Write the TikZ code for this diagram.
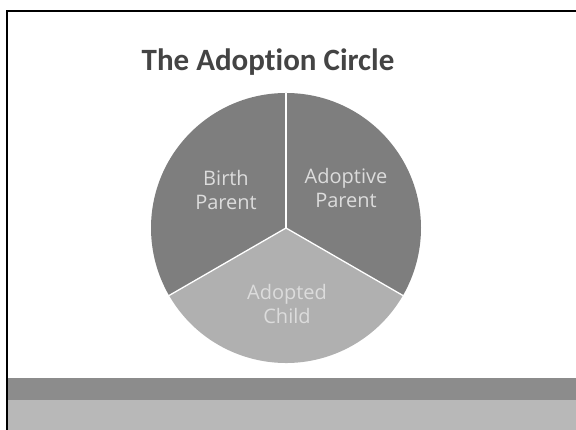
\documentclass[tikz,border=0pt]{standalone}
\usepackage{fontspec}
\setmainfont{Carlito}[Ligatures=NoCommon]
\newfontfamily\labelfont{Open Sans}
\definecolor{slicedark}{HTML}{7E7E7E}
\definecolor{slicelight}{HTML}{B0B0B0}
\definecolor{labeltext}{HTML}{DCDCDC}
\definecolor{titletext}{HTML}{444444}
\definecolor{banddark}{HTML}{8C8C8C}
\definecolor{bandlight}{HTML}{B8B8B8}
\begin{document}
\begin{tikzpicture}[x=1pt,y=1pt,
  slicelabel/.style={text=labeltext,font=\labelfont\fontsize{20}{24}\selectfont,align=center},
  divider/.style={draw=white,line width=1.3pt}]
\useasboundingbox (0,0) rectangle (576,430);
% bottom band (image y 378..430 -> 52..0)
\fill[bandlight] (7,0) rectangle (576,52);
\fill[banddark] (7,30) rectangle (576,52);
% frame
\draw[line width=1.2pt] (7,0) -- (7,419) -- (576,419);
% title
\node[text=titletext,font=\bfseries\fontsize{31}{36}\selectfont] (title) at (268,368) {The Adoption Circle};
% pie, centre at image (286,228) -> (286,202)
\coordinate (c) at (286,202);
\fill[slicedark] (c) -- ++(90:135) arc[start angle=90,end angle=210,radius=135] -- cycle;
\fill[slicedark] (c) -- ++(90:135) arc[start angle=90,end angle=-30,radius=135] -- cycle;
\fill[slicelight] (c) -- ++(210:135) arc[start angle=210,end angle=330,radius=135] -- cycle;
\path (c) ++(90:135) coordinate (top);
\path (c) ++(210:135) coordinate (ll);
\path (c) ++(330:135) coordinate (lr);
\draw[divider] (c) -- (top);
\draw[divider] (c) -- (ll);
\draw[divider] (c) -- (lr);
\node[slicelabel] (birth) at (226,240) {Birth\\Parent};
\node[slicelabel] (adoptive) at (346,242) {Adoptive\\Parent};
\node[slicelabel] (child) at (287,126) {Adopted\\Child};
\end{tikzpicture}
\end{document}
